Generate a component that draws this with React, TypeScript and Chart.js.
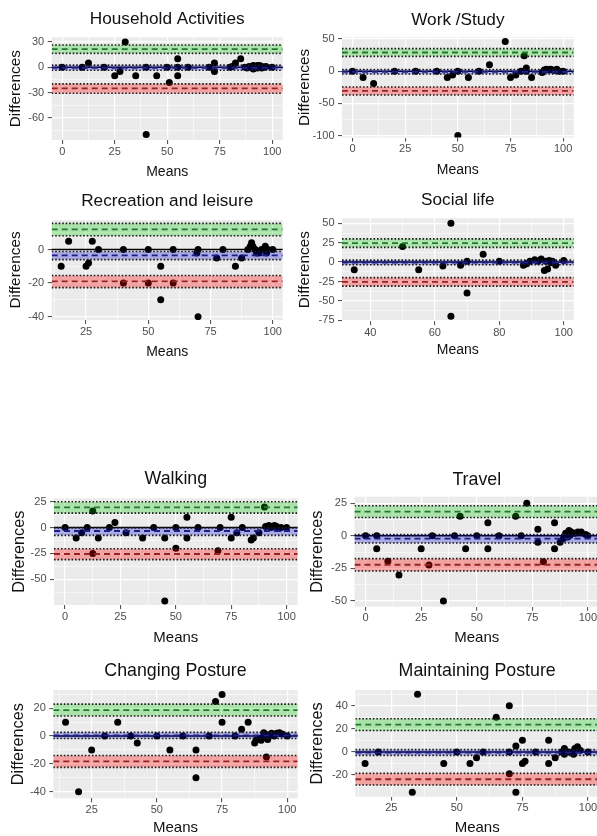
import React, { useEffect, useRef } from 'react';
import { Chart, registerables } from 'chart.js';

Chart.register(...registerables);

const FONT = "'Liberation Sans', Arial, Helvetica, sans-serif";

// ---------------- DATA ----------------
// Household Activities
const householdMeans = [0, 9.5, 12.5, 20, 25, 27.5, 30, 35, 40, 40, 45, 50, 51, 55, 55, 55, 60, 70, 72.5, 72.5, 80, 81, 82.5, 85, 87, 88, 89, 90, 91, 91, 92, 92, 93, 93, 94, 94, 95, 95, 96, 97, 100];
const householdDiffs = [0, 0, 5, 0, -10, -5, 30, -10, 0, -80, -10, 0, -18, 10, 0, -10, 0, 0, 5, -5, 0, 1, 5, 10, 0, -1, 1, 0, -2, 2, 0, 1, 2, -1, 0, 2, 1, -1, 0, 1, 0];
const householdUpper = [16.5, 21.5, 26.5];
const householdBias = [-3.5, -0.7, 2.5];
const householdLower = [-31, -25.2, -19.8];
const householdXTicks = [0, 25, 50, 75, 100];
const householdYTicks = [-60, -30, 0, 30];
const householdXRange = [-5, 105];
const householdYRange = [-86.5, 35.6];

// Work /Study
const workMeans = [0, 5, 10, 20, 30, 40, 45, 47.5, 50, 50, 55, 60, 65, 72.5, 75, 77.5, 80, 81.5, 82.5, 82.5, 85, 90, 91, 92, 93, 94, 95, 96, 97, 98, 100];
const workDiffs = [0, -10, -19, 0, 0, 0, -10, -6, 0, -100, -10, 0, 10, 46, -10, -6, 0, 24, 5, 0, -10, -2, 2, 3, 2, 3, 2, 1, 3, 0, 0];
const workUpper = [23, 29, 35];
const workBias = [-4.5, -1, 2.5];
const workLower = [-37, -30.5, -24.5];
const workXTicks = [0, 25, 50, 75, 100];
const workYTicks = [-100, -50, 0, 50];
const workXRange = [-5, 105];
const workYRange = [-103, 52.6];

// Recreation and leisure
const recreationMeans = [15, 18, 25, 26, 27.5, 30, 40, 40, 50, 50, 55, 55, 60, 60, 69.5, 70, 70, 77.5, 80, 85, 87.5, 90, 91, 91.5, 92, 93, 93.5, 94.5, 95.5, 97, 97.5, 98, 100];
const recreationDiffs = [-10, 5, -10, -8, 5, 0, 0, -20, 0, -20, -10, -30, 0, -20, -2, 0, -40, -5, 0, -10, -5, 0, 2, 4, 2, 0, -2, -2, 0, 2, -2, 0, 0];
const recreationUpper = [8.2, 12, 15.6];
const recreationBias = [-6, -3.5, -1.2];
const recreationLower = [-22.7, -19, -15.5];
const recreationXTicks = [25, 50, 75, 100];
const recreationYTicks = [-40, -20, 0];
const recreationXRange = [11.2, 104];
const recreationYRange = [-42, 17.6];

// Social life
const socialMeans = [35, 50, 55, 62.5, 65, 65, 68, 70, 70, 75, 80, 87.5, 88.5, 89.5, 91, 92, 93, 94, 94.5, 95, 95.5, 96, 96.5, 97.5, 100];
const socialDiffs = [-10, 20, -10, -5, 50, -70, -4, 1, -40, 10, 1, -4, -2, 1, 3, 1, 4, -11, 1, -9, 2, -1, 1, -4, 2];
const socialUpper = [19, 24.5, 30];
const socialBias = [-3.5, -0.5, 2.5];
const socialLower = [-31, -25.5, -20];
const socialXTicks = [40, 60, 80, 100];
const socialYTicks = [-75, -50, -25, 0, 25, 50];
const socialXRange = [31.2, 103.1];
const socialYRange = [-76, 56.5];

// Walking
const walkingMeans = [0, 5, 7.5, 10, 12.5, 12.5, 15, 20, 22.5, 27.5, 35, 40, 45, 45, 50, 50, 55, 55, 60, 69, 70, 75, 75, 77.5, 80, 84, 85, 87.5, 90, 90.5, 92, 93, 93.5, 94.5, 95.5, 96.5, 97.5, 100];
const walkingDiffs = [0, -10, -5, 0, 16, -25, -10, 0, 5, -5, -10, 0, -10, -71, 0, -20, 10, -10, 0, -22.5, 0, 10, -10, -5, 0, -12, -10, -5, 20, 1, 2, 0, 1, 2, 1, -1, 0, 0];
const walkingUpper = [14, 19.5, 25];
const walkingBias = [-7.5, -3.3, -0.3];
const walkingLower = [-31, -25.5, -20.5];
const walkingXTicks = [0, 25, 50, 75, 100];
const walkingYTicks = [-50, -25, 0, 25];
const walkingXRange = [-5, 105];
const walkingYRange = [-74.8, 28.3];

// Travel
const travelMeans = [0, 5, 5, 10, 15, 25, 28.5, 30, 35, 40, 42.5, 45, 50, 55, 55, 60, 67.5, 70, 72.5, 77.5, 77.5, 80, 85, 85, 87.5, 89, 90, 91, 91.5, 92, 92.5, 94, 95.5, 97, 99, 100];
const travelDiffs = [0, 0, -10, -19.5, -30, -10, -22.5, 0, -50, 0, 15, -10, 0, 10, -10, 0, 15, 0, 25, 5, -5, -20, 10, -10, -5, -2, 2, -1, 4, 0.5, 3, 2, 3, 3, 1, 0];
const travelUpper = [14, 18.5, 23];
const travelBias = [-5.5, -2.2, 1];
const travelLower = [-27, -22.2, -17.5];
const travelXTicks = [0, 25, 50, 75, 100];
const travelYTicks = [-50, -25, 0, 25];
const travelXRange = [-5, 105];
const travelYRange = [-54.4, 30];

// Changing Posture
const changingMeans = [15, 20, 25, 30, 35, 40, 42.5, 50, 55, 60, 65, 65, 70, 72.5, 75, 75, 80, 82.5, 85, 87.5, 88, 89.5, 90, 91, 91, 92, 92, 92.5, 93, 94, 95, 96, 97, 98, 100];
const changingDiffs = [10, -40, -10, 0, 10, 0, -5, 0, -10, 0, -10, -30, 0, 25, 30, 10, 0, 5, 10, -5, -3, -2, -3, 0, 2.5, -1, -15, -2.5, 1, 2, 0, 2, 2.5, 1.5, 0];
const changingUpper = [14.5, 18.7, 23];
const changingBias = [-1.7, 0.5, 2.7];
const changingLower = [-22.5, -18.2, -14];
const changingXTicks = [25, 50, 75, 100];
const changingYTicks = [-40, -20, 0, 20];
const changingXRange = [10.3, 104];
const changingYRange = [-44.8, 33.2];

// Maintaining Posture
const maintainingMeans = [15, 20, 33, 35, 45, 50, 55, 57.5, 60, 65, 70, 70, 70, 72.5, 72.5, 75, 75, 76, 80, 85, 85, 87.5, 90, 91, 91, 92.5, 94, 94.5, 95, 96, 97, 100];
const maintainingDiffs = [-10, 0, -35, 50, -10, 0, -10, -5, 0, 30, 40, 0, -19, 5, -35, 10, -10, -8, 0, 10, -10, -5, 0, 3, -2, 0, 0, -2, 3, 4.5, 1.5, 0];
const maintainingUpper = [18.5, 23.7, 28.7];
const maintainingBias = [-3, -0.6, 2];
const maintainingLower = [-28.7, -23.7, -18.6];
const maintainingXTicks = [25, 50, 75, 100];
const maintainingYTicks = [-20, 0, 20, 40];
const maintainingXRange = [11.27, 104.2];
const maintainingYRange = [-38.8, 53.6];

// ---------------- LAYOUT ----------------
type Frame = {
  L: number; T: number; R: number; B: number;
  titleY: number; yTitleX: number; xTitleY: number;
  titleSize: number; yTitleSize: number; xTitleSize: number;
};

type PanelSpec = {
  title: string;
  means: number[]; diffs: number[];
  upper: number[]; bias: number[]; lower: number[];
  xTicks: number[]; yTicks: number[];
  xRange: number[]; yRange: number[];
  frame: Frame;
};

const topSizes = { titleSize: 17.2, yTitleSize: 15.3, xTitleSize: 14 };
const botSizes = { titleSize: 17.8, yTitleSize: 16.3, xTitleSize: 15 };

const panels: PanelSpec[] = [
  {
    title: 'Household Activities', means: householdMeans, diffs: householdDiffs,
    upper: householdUpper, bias: householdBias, lower: householdLower,
    xTicks: householdXTicks, yTicks: householdYTicks, xRange: householdXRange, yRange: householdYRange,
    frame: { L: 51.7, T: 37.3, R: 282.7, B: 140, titleY: 19.5, yTitleX: 16, xTitleY: 171.7, ...topSizes },
  },
  {
    title: 'Work /Study', means: workMeans, diffs: workDiffs,
    upper: workUpper, bias: workBias, lower: workLower,
    xTicks: workXTicks, yTicks: workYTicks, xRange: workXRange, yRange: workYRange,
    frame: { L: 342, T: 37.3, R: 573.7, B: 137.5, titleY: 20, yTitleX: 304.5, xTitleY: 169.7, ...topSizes },
  },
  {
    title: 'Recreation and leisure', means: recreationMeans, diffs: recreationDiffs,
    upper: recreationUpper, bias: recreationBias, lower: recreationLower,
    xTicks: recreationXTicks, yTicks: recreationYTicks, xRange: recreationXRange, yRange: recreationYRange,
    frame: { L: 51.7, T: 220, R: 282.7, B: 320, titleY: 201.7, yTitleX: 16, xTitleY: 351.7, ...topSizes },
  },
  {
    title: 'Social life', means: socialMeans, diffs: socialDiffs,
    upper: socialUpper, bias: socialBias, lower: socialLower,
    xTicks: socialXTicks, yTicks: socialYTicks, xRange: socialXRange, yRange: socialYRange,
    frame: { L: 342, T: 218.3, R: 573.7, B: 321, titleY: 200.7, yTitleX: 304.5, xTitleY: 350, ...topSizes },
  },
  {
    title: 'Walking', means: walkingMeans, diffs: walkingDiffs,
    upper: walkingUpper, bias: walkingBias, lower: walkingLower,
    xTicks: walkingXTicks, yTicks: walkingYTicks, xRange: walkingXRange, yRange: walkingYRange,
    frame: { L: 54, T: 498.3, R: 297.7, B: 605, titleY: 479.3, yTitleX: 19.7, xTitleY: 638.3, ...botSizes },
  },
  {
    title: 'Travel', means: travelMeans, diffs: travelDiffs,
    upper: travelUpper, bias: travelBias, lower: travelLower,
    xTicks: travelXTicks, yTicks: travelYTicks, xRange: travelXRange, yRange: travelYRange,
    frame: { L: 354.5, T: 496.7, R: 599, B: 606.7, titleY: 480, yTitleX: 318, xTitleY: 637.5, ...botSizes },
  },
  {
    title: 'Changing Posture', means: changingMeans, diffs: changingDiffs,
    upper: changingUpper, bias: changingBias, lower: changingLower,
    xTicks: changingXTicks, yTicks: changingYTicks, xRange: changingXRange, yRange: changingYRange,
    frame: { L: 53.3, T: 690, R: 297.7, B: 798.3, titleY: 670.7, yTitleX: 18.8, xTitleY: 828, ...botSizes },
  },
  {
    title: 'Maintaining Posture', means: maintainingMeans, diffs: maintainingDiffs,
    upper: maintainingUpper, bias: maintainingBias, lower: maintainingLower,
    xTicks: maintainingXTicks, yTicks: maintainingYTicks, xRange: maintainingXRange, yRange: maintainingYRange,
    frame: { L: 355.3, T: 690, R: 599, B: 796.7, titleY: 670.7, yTitleX: 318, xTitleY: 828, ...botSizes },
  },
];

// minor breaks (midpoints between major breaks, as ggplot does)
function withMinor(majors: number[], range: number[]): number[] {
  const step = majors[1] - majors[0];
  const out: number[] = [];
  const start = majors[0] - step * 3;
  const end = majors[majors.length - 1] + step * 3;
  for (let v = start; v <= end + 1e-9; v += step / 2) {
    const r = Math.round(v * 1000) / 1000;
    if (r > range[0] && r < range[1]) out.push(r);
  }
  return out;
}

function makeRefPlugin(upper: number[], bias: number[], lower: number[]) {
  return {
    id: 'baRefs',
    beforeDraw(chart: any) {
      const { ctx, chartArea: a } = chart;
      ctx.save();
      ctx.fillStyle = '#EBEBEB';
      ctx.fillRect(a.left, a.top, a.right - a.left, a.bottom - a.top);
      ctx.restore();
    },
    beforeDatasetsDraw(chart: any) {
      const { ctx, chartArea: a } = chart;
      const y0 = chart.scales.y.getPixelForValue(0);
      ctx.save();
      ctx.strokeStyle = '#000';
      ctx.lineWidth = 1.5;
      ctx.beginPath();
      ctx.moveTo(a.left, y0);
      ctx.lineTo(a.right, y0);
      ctx.stroke();
      ctx.restore();
    },
    afterDatasetsDraw(chart: any) {
      const { ctx, chartArea: a } = chart;
      const ys = chart.scales.y;
      const bands = [
        { v: upper, fill: 'rgba(0,200,0,0.27)', line: '#237A2E' },
        { v: bias, fill: 'rgba(0,0,210,0.28)', line: '#1E1E86' },
        { v: lower, fill: 'rgba(255,0,0,0.31)', line: '#962424' },
      ];
      ctx.save();
      ctx.beginPath();
      ctx.rect(a.left, a.top, a.right - a.left, a.bottom - a.top);
      ctx.clip();
      const hline = (yy: number) => {
        ctx.beginPath();
        ctx.moveTo(a.left, yy);
        ctx.lineTo(a.right, yy);
        ctx.stroke();
      };
      for (const b of bands) {
        const yHi = ys.getPixelForValue(b.v[2]);
        const yLo = ys.getPixelForValue(b.v[0]);
        const yMid = ys.getPixelForValue(b.v[1]);
        ctx.fillStyle = b.fill;
        ctx.fillRect(a.left, yHi, a.right - a.left, yLo - yHi);
        ctx.setLineDash([1.6, 1.9]);
        ctx.strokeStyle = '#1a1a1a';
        ctx.lineWidth = 1.6;
        hline(yHi);
        hline(yLo);
        ctx.setLineDash([6, 4]);
        ctx.strokeStyle = b.line;
        ctx.lineWidth = 1.8;
        hline(yMid);
      }
      ctx.restore();
    },
  };
}

function Panel({ spec }: { spec: PanelSpec }) {
  const ref = useRef<HTMLCanvasElement>(null);
  const f = spec.frame;
  const lhT = f.titleSize * 1.2;
  const lhY = f.yTitleSize * 1.2;
  const lhX = f.xTitleSize * 1.2;
  const cx = Math.floor(f.yTitleX - lhY / 2 - 3);
  const cy = Math.floor(f.titleY - lhT / 2 - 3);
  const cw = Math.ceil(f.R + 5) - cx;
  const ch = Math.ceil(f.xTitleY + lhX / 2 + 3) - cy;

  useEffect(() => {
    const canvas = ref.current;
    if (!canvas) return;
    const majorX = spec.xTicks;
    const majorY = spec.yTicks;
    const allX = withMinor(majorX, spec.xRange);
    const allY = withMinor(majorY, spec.yRange);
    const isMajorX = (v: any) => majorX.includes(v);
    const isMajorY = (v: any) => majorY.includes(v);
    const tickFont = { family: FONT, size: 11 };

    const chart = new Chart(canvas, {
      type: 'scatter',
      data: {
        datasets: [
          {
            data: spec.means.map((m, i) => ({ x: m, y: spec.diffs[i] })),
            backgroundColor: '#000',
            borderColor: '#000',
            borderWidth: 0,
            pointRadius: 3.5,
            pointHoverRadius: 3.5,
          },
        ],
      },
      options: {
        responsive: false,
        animation: false,
        devicePixelRatio: 1,
        events: [],
        layout: { padding: { left: 0, top: 0, right: cx + cw - f.R, bottom: 0 } },
        plugins: {
          legend: { display: false },
          tooltip: { enabled: false },
          title: {
            display: true,
            text: spec.title,
            fullSize: false,
            color: '#111',
            font: { family: FONT, size: f.titleSize, weight: 'normal' },
            padding: { top: f.titleY - cy - lhT / 2, bottom: f.T - f.titleY - lhT / 2 },
          },
        },
        scales: {
          x: {
            type: 'linear',
            min: spec.xRange[0],
            max: spec.xRange[1],
            afterBuildTicks: (s: any) => {
              s.ticks = allX.map((v) => ({ value: v }));
            },
            afterFit: (s: any) => {
              s.height = cy + ch - f.B;
              s.paddingLeft = 0;
              s.paddingRight = 0;
            },
            ticks: {
              autoSkip: false,
              maxRotation: 0,
              padding: 1,
              color: '#4D4D4D',
              font: tickFont,
              callback: (v: any) => (isMajorX(v) ? String(v) : ''),
            },
            grid: {
              color: '#FFFFFF',
              lineWidth: (c: any) => (c.tick && isMajorX(c.tick.value) ? 1.2 : 0.55),
              tickColor: (c: any) => (c.tick && isMajorX(c.tick.value) ? '#444' : 'rgba(0,0,0,0)'),
              tickWidth: 1,
              tickLength: 4,
            },
            border: { display: false },
            title: {
              display: true,
              text: 'Means',
              color: '#111',
              font: { family: FONT, size: f.xTitleSize },
              padding: { top: 0, bottom: cy + ch - f.xTitleY - lhX / 2 },
            },
          },
          y: {
            type: 'linear',
            min: spec.yRange[0],
            max: spec.yRange[1],
            afterBuildTicks: (s: any) => {
              s.ticks = allY.map((v) => ({ value: v }));
            },
            afterFit: (s: any) => {
              s.width = f.L - cx;
              s.paddingTop = 0;
              s.paddingBottom = 0;
            },
            ticks: {
              autoSkip: false,
              padding: 3.5,
              color: '#4D4D4D',
              font: tickFont,
              callback: (v: any) => (isMajorY(v) ? String(v) : ''),
            },
            grid: {
              color: '#FFFFFF',
              lineWidth: (c: any) => (c.tick && isMajorY(c.tick.value) ? 1.2 : 0.55),
              tickColor: (c: any) => (c.tick && isMajorY(c.tick.value) ? '#444' : 'rgba(0,0,0,0)'),
              tickWidth: 1,
              tickLength: 4,
            },
            border: { display: false },
            title: {
              display: true,
              text: 'Differences',
              color: '#111',
              font: { family: FONT, size: f.yTitleSize },
              padding: { top: f.yTitleX - cx - lhY / 2, bottom: 0 },
            },
          },
        },
      } as any,
      plugins: [makeRefPlugin(spec.upper, spec.bias, spec.lower)],
    });
    return () => chart.destroy();
  }, []);

  return (
    <canvas
      ref={ref}
      width={cw}
      height={ch}
      style={{ position: 'absolute', left: cx, top: cy, width: cw, height: ch, display: 'block' }}
    />
  );
}

export default function App() {
  return (
    <div
      style={{
        position: 'absolute',
        left: 0,
        top: 0,
        width: 597,
        height: 836,
        overflow: 'hidden',
        background: '#fff',
      }}
    >
      {panels.map((p) => (
        <Panel key={p.title} spec={p} />
      ))}
    </div>
  );
}
